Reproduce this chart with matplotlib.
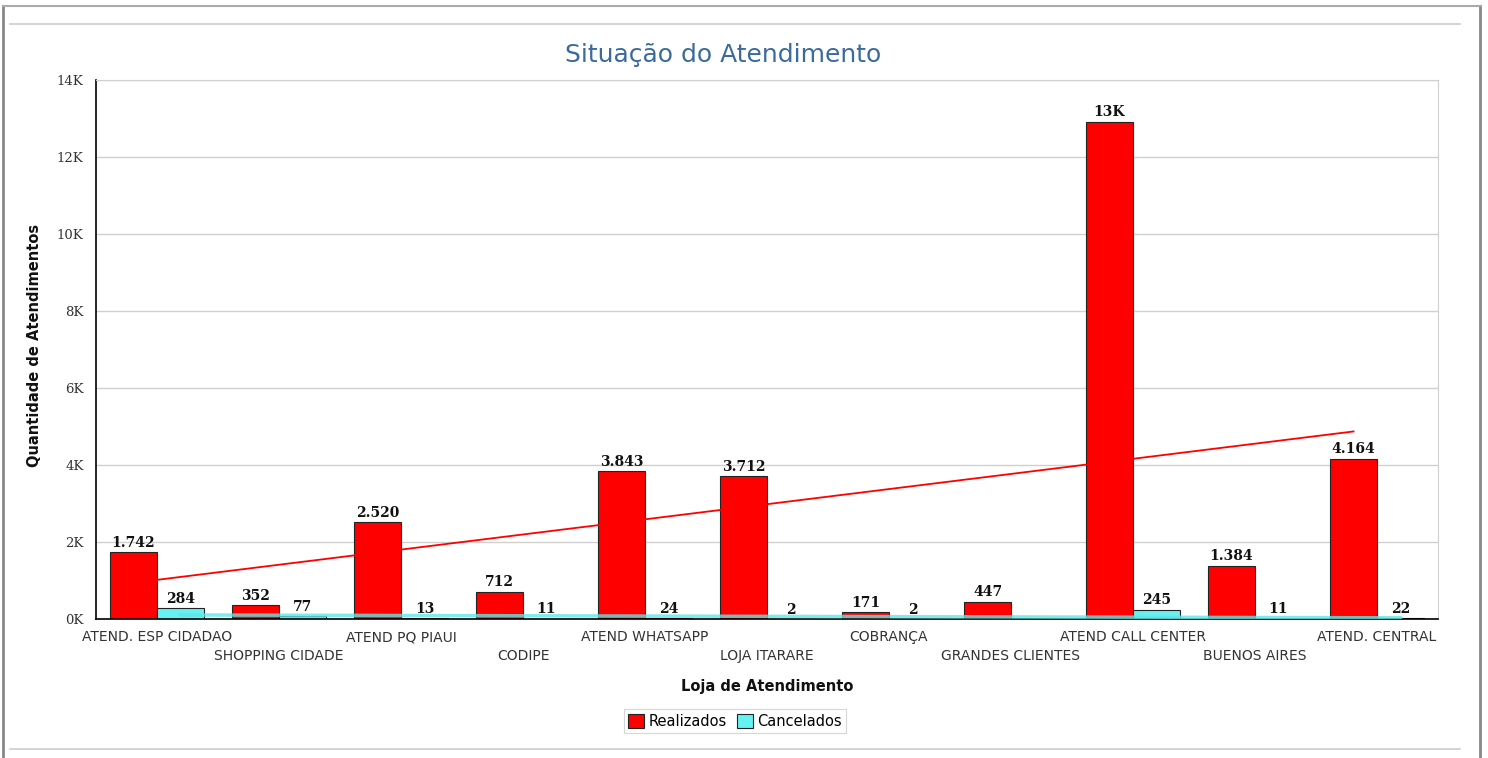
import numpy as np
import matplotlib
matplotlib.use("Agg")
import matplotlib.pyplot as plt
from matplotlib.lines import Line2D

lojas = ["ATEND. ESP CIDADAO", "SHOPPING CIDADE", "ATEND PQ PIAUI", "CODIPE",
         "ATEND WHATSAPP", "LOJA ITARARE", "COBRANÇA", "GRANDES CLIENTES",
         "ATEND CALL CENTER", "BUENOS AIRES", "ATEND. CENTRAL"]
realizados = [1742, 352, 2520, 712, 3843, 3712, 171, 447, 12920, 1384, 4164]
cancelados = [284, 77, 13, 11, 24, 2, 2, np.nan, 245, 11, 22]
yticks = [0, 2000, 4000, 6000, 8000, 10000, 12000, 14000]
ytick_labels = ["0K", "2K", "4K", "6K", "8K", "10K", "12K", "14K"]

RED = "#ff0000"
CYAN = "#66f2f2"

def fmt(v):
    if v >= 10000:
        return "%dK" % round(v / 1000)
    return "{:,}".format(int(v)).replace(",", ".")

fig = plt.figure(figsize=(14.88, 7.58), dpi=100)
ax = fig.add_axes([96/1488, 1-619/758, (1438-96)/1488, (619-80)/758])

x = np.arange(len(lojas))
w = 0.385
real = np.array(realizados, dtype=float)
canc = np.array(cancelados, dtype=float)

ax.bar(x - w/2, real, w, color=RED, edgecolor="#222222", linewidth=0.8, zorder=2, label="Realizados")
ax.bar(x + w/2, np.nan_to_num(canc), w, color=CYAN, edgecolor="#222222", linewidth=0.8, zorder=2, label="Cancelados")

# trend lines (linear fit of each series)
p = np.polyfit(x, real, 1)
ax.plot(x - w/2, np.polyval(p, x), color=RED, lw=1.3, zorder=3)
ok = ~np.isnan(canc)
pc = np.polyfit(x[ok], canc[ok], 1)
ax.plot(x + w/2, np.polyval(pc, x), color="#5fe6e6", lw=2.5, alpha=0.8, zorder=3)

for i in range(len(lojas)):
    ax.text(x[i] - w/2, real[i] + 60, fmt(real[i]), ha="center", va="bottom",
            family="DejaVu Serif", fontweight="bold", fontsize=10, color="#111111", zorder=4)
    if not np.isnan(canc[i]):
        ax.text(x[i] + w/2, canc[i] + 60, fmt(canc[i]), ha="center", va="bottom",
                family="DejaVu Serif", fontweight="bold", fontsize=10, color="#111111", zorder=4)

ax.set_xlim(-0.5, 10.5)
ax.set_ylim(0, 14000)
ax.set_yticks(yticks)
ax.set_yticklabels(ytick_labels, family="DejaVu Serif", fontsize=9.5, color="#333333")
ax.tick_params(axis="y", length=0, pad=9)
ax.set_xticks([])
ax.yaxis.grid(True, color="#d0d0d0", lw=1)
ax.set_axisbelow(True)
for s in ["top", "right"]:
    ax.spines[s].set_color("#d0d0d0")
for s in ["left", "bottom"]:
    ax.spines[s].set_color("black")
    ax.spines[s].set_linewidth(1.2)

tr = ax.get_xaxis_transform()
for i, nome in enumerate(lojas):
    yy = -0.034 if i % 2 == 0 else -0.068
    ax.text(x[i], yy, nome, transform=tr, ha="center", va="center",
            fontsize=10, color="#333333", family="DejaVu Sans")

fig.text(35/1488, 1-345/758, "Quantidade de Atendimentos", rotation=90,
         ha="center", va="center", fontsize=10.5, fontweight="bold",
         family="DejaVu Sans", color="#111111")
fig.text(767/1488, 1-686/758, "Loja de Atendimento", ha="center", va="center",
         fontsize=10.5, fontweight="bold", family="DejaVu Sans", color="#111111")
fig.text(723/1488, 1-55/758, "Situação do Atendimento", ha="center", va="center",
         fontsize=18, color="#3b6b9c", family="DejaVu Sans")

leg = fig.legend(loc="center", bbox_to_anchor=(735/1488, 1-721/758), ncol=2,
                 handlelength=1.1, handleheight=1.1, handletextpad=0.3,
                 columnspacing=0.7, borderpad=0.3, fancybox=False,
                 edgecolor="#cccccc", prop={"size": 10.5, "family": "DejaVu Sans"})
leg.get_frame().set_linewidth(0.8)

# outer frame lines
fig.add_artist(Line2D([3/1488, 3/1488], [0, 1-6/758], color="#888888", lw=2))
fig.add_artist(Line2D([1480/1488, 1480/1488], [0, 1-6/758], color="#888888", lw=2))
fig.add_artist(Line2D([3/1488, 1480/1488], [1-6/758, 1-6/758], color="#aaaaaa", lw=1.5))
fig.add_artist(Line2D([10/1488, 1460/1488], [1-24/758, 1-24/758], color="#cccccc", lw=1.2))
fig.add_artist(Line2D([10/1488, 1460/1488], [1-749/758, 1-749/758], color="#cccccc", lw=1.2))

fig.savefig("out.png", dpi=100)
